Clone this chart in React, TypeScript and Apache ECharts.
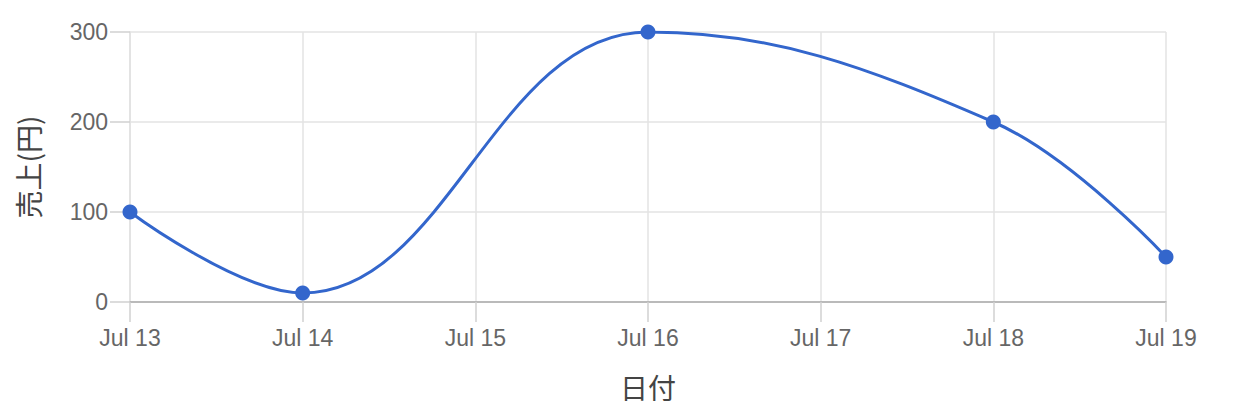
import React, { useEffect, useRef } from "react";
import * as echarts from "echarts";

// 日付 (7月の日) と売上
const days = [13, 14, 16, 18, 19];
const sales = [100, 10, 300, 200, 50];
const month = "Jul";
const yTicks = [0, 100, 200, 300];

const App: React.FC = () => {
	const chartRef = useRef<HTMLDivElement>(null);

	useEffect(() => {
		document.body.style.margin = "0";
		if (!chartRef.current) return;
		const chart = echarts.init(chartRef.current, null, { renderer: "svg" });

		const font = "'Liberation Sans', Arial, 'Noto Sans CJK JP', sans-serif";
		const cjk = "'Noto Sans CJK JP', sans-serif";
		const tickStyle = { color: "#d0d0d0", width: 1.5 };
		const option: echarts.EChartsOption = {
			animation: false,
			grid: { left: 130, right: 76, top: 32, bottom: 112 },
			xAxis: {
				type: "value",
				min: days[0],
				max: days[days.length - 1],
				interval: 1,
				name: "日付",
				nameLocation: "middle",
				nameGap: 71,
				nameTextStyle: { fontSize: 28, color: "#444", fontFamily: cjk },
				axisLine: { show: true, onZero: false, lineStyle: { color: "#aaa", width: 1.5 } },
				axisTick: { show: true, length: 20, lineStyle: tickStyle },
				axisLabel: {
					margin: 24,
					fontSize: 23,
					color: "#666",
					fontFamily: font,
					formatter: (v: number) => `${month} ${v}`,
				},
				splitLine: { show: true, lineStyle: { color: "#e3e3e3", width: 1.5 } },
			},
			yAxis: {
				type: "value",
				min: yTicks[0],
				max: yTicks[yTicks.length - 1],
				interval: 100,
				name: "売上(円)",
				nameLocation: "middle",
				nameGap: 88,
				nameTextStyle: { fontSize: 28, color: "#444", fontFamily: cjk },
				axisLine: { show: true, onZero: false, lineStyle: { color: "#e0e0e0", width: 1.5 } },
				axisTick: { show: true, length: 20, lineStyle: tickStyle },
				axisLabel: { margin: 22, fontSize: 23, color: "#666", fontFamily: font },
				splitLine: { show: true, lineStyle: { color: "#e3e3e3", width: 1.5 } },
			},
			series: [
				{
					type: "line",
					data: days.map((d, i) => [d, sales[i]]),
					smooth: 0.4,
					symbol: "circle",
					symbolSize: 15,
					itemStyle: { color: "#3366CC" },
					lineStyle: { color: "#3366CC", width: 3 },
				},
			],
		};

		chart.setOption(option);
		return () => {
			chart.dispose();
		};
	}, []);

	return <div ref={chartRef} style={{ width: "1242px", height: "414px" }} />;
};

export default App;
